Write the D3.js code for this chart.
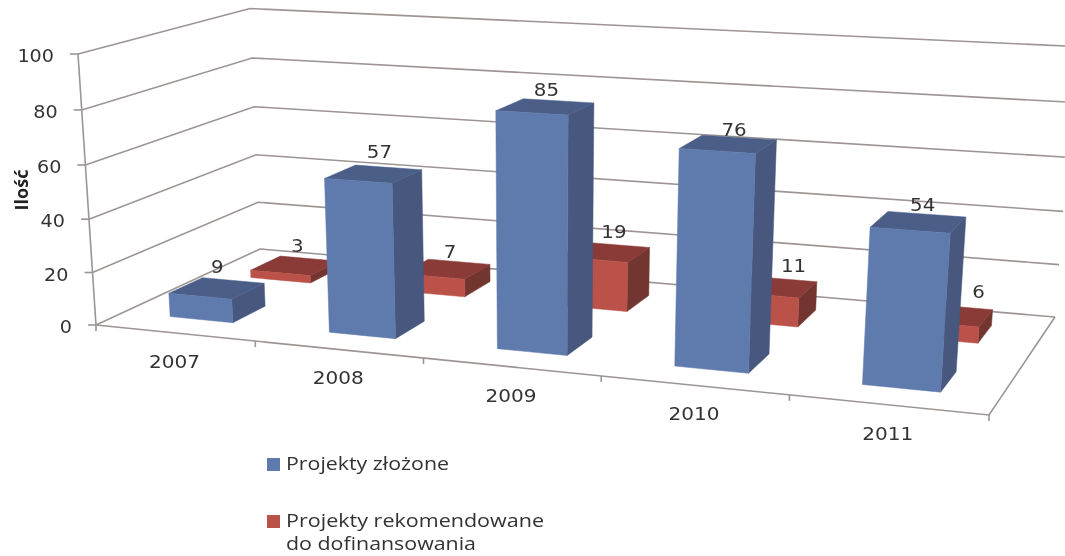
<!DOCTYPE html>
<html><head><meta charset="utf-8">
<script src="https://cdn.jsdelivr.net/npm/d3@7"></script>
<style>html,body{margin:0;padding:0;background:#fff}svg{display:block}</style>
</head><body><svg id="c" width="1065" height="556"></svg>
<script>
const categories = ["2007","2008","2009","2010","2011"];
const seriesNames = ["Projekty złożone","Projekty rekomendowane"];
const submitted = [9,57,85,76,54];
const recommended = [3,7,19,11,6];
const yTicks = [0,20,40,60,80,100];

// perspective anchors of the chart box (screen pixels) and vertical foreshortening
const Q = {o:[96,325], u:[989,415], ud:[1055,317], d:[260,249], v:[78,54], k:-0.039};
// hand placement of the data labels relative to their bars, as in the source chart
const submittedNudge = [[-10,-1],[-3,-3],[-6,1],[1,4],[2,3]];
const recommendedNudge = [[-6,-1],[-3,2],[3,-1],[17,-1],[28,-3]];
const COL = {blue:{f:"#5f7aad",t:"#4b5e88",s:"#47577e"}, red:{f:"#bb5249",t:"#8a3b38",s:"#733530"}, grid:"#9c9593", text:"#333"};

const [x0,y0]=Q.o,[x1,y1]=Q.u,[x2,y2]=Q.ud,[x3,y3]=Q.d;
const dx1=x1-x2,dx2=x3-x2,sx=x0-x1+x2-x3,dy1=y1-y2,dy2=y3-y2,sy=y0-y1+y2-y3;
const det=dx1*dy2-dx2*dy1;
const g=(sx*dy2-dx2*sy)/det,h=(dx1*sy-sx*dy1)/det;
const a=x1-x0+g*x1,b=x3-x0+h*x3,c=x0,d=y1-y0+g*y1,e=y3-y0+h*y3,f=y0;
const k=Q.k;
const av=Q.v[0]*(1+k)-c, bv=Q.v[1]*(1+k)-f;
function P(u,dd,v){const w=g*u+h*dd+k*v+1;return [(a*u+b*dd+c+av*v)/w,(d*u+e*dd+f+bv*v)/w];}

const uScale=d3.scaleBand().domain(categories).range([0,1]).paddingInner(0.6).paddingOuter(0.3);
const uStep=d3.scaleLinear().domain([0,categories.length]).range([0,1]);
const dScale=d3.scaleBand().domain(seriesNames).range([0,1]).paddingInner(0.6).paddingOuter(0.31);
const vScale=d3.scaleLinear().domain([0,100]).range([0,1]);

const svg=d3.select("#c");
const root=svg.append("g").style("filter","blur(0.45px)");
const line=d3.line();
const seg=(pts,w=1.6,col=COL.grid)=>root.append("path").attr("d",line(pts)).attr("fill","none").attr("stroke",col).attr("stroke-width",w);

// walls
yTicks.forEach(t=>{const v=vScale(t);
  seg([P(0,0,v),P(0,1,v),P(1,1,v)]);
  const p=P(0,0,v); seg([[p[0]-8,p[1]],p]);
  root.append("text").attr("x",p[0]-24).attr("y",p[1]+8).attr("text-anchor","end")
    .attr("font-family","DejaVu Sans").attr("font-size",18).attr("fill",COL.text)
    .attr("textLength",String(t).length*12.2).attr("lengthAdjust","spacingAndGlyphs").text(t);
});
seg([P(0,0,0),P(0,0,1)]);
seg([P(0,0,0),P(1,0,0),P(1,1,0)]);
d3.range(categories.length+1).forEach(i=>{const p=P(uStep(i),0,0);seg([p,[p[0],p[1]+6]]);});

function bar(cat,ser,val,col){
  const u0=uScale(cat),u1=u0+uScale.bandwidth(),d0=dScale(ser),d1=d0+dScale.bandwidth(),v=vScale(val);
  const face=(pts,fill)=>root.append("path").attr("d",line(pts)+"Z").attr("fill",fill).attr("stroke",fill).attr("stroke-width",.5);
  face([P(u1,d0,0),P(u1,d1,0),P(u1,d1,v),P(u1,d0,v)],col.s);
  face([P(u0,d0,v),P(u1,d0,v),P(u1,d1,v),P(u0,d1,v)],col.t);
  face([P(u0,d0,0),P(u1,d0,0),P(u1,d0,v),P(u0,d0,v)],col.f);
}
categories.forEach((c,i)=>bar(c,seriesNames[1],recommended[i],COL.red));
categories.forEach((c,i)=>bar(c,seriesNames[0],submitted[i],COL.blue));

function vlabel(cat,ser,val,n){
  const p=P(uScale(cat)+uScale.bandwidth()/2,dScale(ser)+dScale.bandwidth(),vScale(val));
  root.append("text").attr("x",p[0]-6+n[0]).attr("y",p[1]-6+n[1]).attr("text-anchor","middle")
    .attr("font-family","DejaVu Sans").attr("font-size",17.5).attr("fill",COL.text)
    .attr("textLength",String(val).length*12.6).attr("lengthAdjust","spacingAndGlyphs").text(val);
}
categories.forEach((c,i)=>{vlabel(c,seriesNames[1],recommended[i],recommendedNudge[i]);vlabel(c,seriesNames[0],submitted[i],submittedNudge[i]);});

categories.forEach((c,i)=>{const p=P(uScale(c)+uScale.bandwidth()/2,0,0);
  root.append("text").attr("x",p[0]).attr("y",p[1]+35).attr("text-anchor","middle")
    .attr("font-family","DejaVu Sans").attr("font-size",17).attr("fill",COL.text)
    .attr("textLength",51).attr("lengthAdjust","spacingAndGlyphs").text(c);});

root.append("text").attr("transform","translate(28,190) rotate(-90)").attr("text-anchor","middle")
  .attr("font-family","Open Sans").attr("font-weight",700).attr("font-size",18).attr("fill","#222").text("Ilość");

const leg=[{c:COL.blue.f,y:458,lines:[["Projekty złożone",163,470]]},
 {c:COL.red.f,y:515,lines:[["Projekty rekomendowane",258,527],["do dofinansowania",190,550]]}];
leg.forEach(l=>{root.append("rect").attr("x",267).attr("y",l.y).attr("width",13).attr("height",13).attr("fill",l.c);
  l.lines.forEach(([t,w,y])=>root.append("text").attr("x",286).attr("y",y).attr("font-family","Open Sans").attr("font-size",18)
    .attr("fill",COL.text).attr("textLength",w).attr("lengthAdjust","spacingAndGlyphs").text(t));});
</script></body></html>
